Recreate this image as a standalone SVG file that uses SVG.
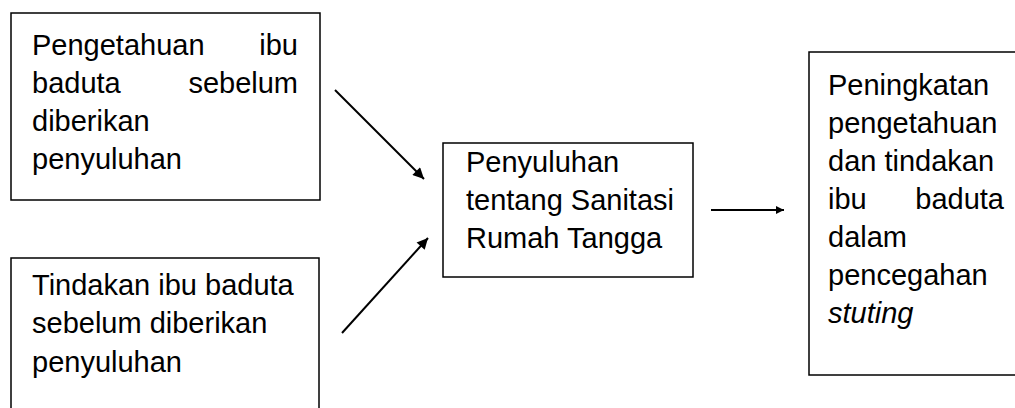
<svg xmlns="http://www.w3.org/2000/svg" width="1015" height="408" viewBox="0 0 1015 408">
<style>
.box{fill:#fff;stroke:#000;stroke-width:1.5}
.t{font-family:"Liberation Sans",Arial,sans-serif;font-size:29px;fill:#000}
.e{text-anchor:end}
.c{stroke:#000;stroke-width:2;fill:none}
</style>
<defs>
<marker id="ah" viewBox="0 0 10 10" refX="10" refY="5" markerWidth="6.5" markerHeight="5.5" orient="auto" markerUnits="strokeWidth">
<path d="M0,0 L10,5 L0,10 z" fill="#000"/>
</marker>
<marker id="ahs" viewBox="0 0 10 10" refX="10" refY="5" markerWidth="4" markerHeight="4.5" orient="auto" markerUnits="strokeWidth">
<path d="M0,0 L10,5 L0,10 z" fill="#000"/>
</marker>
</defs>
<rect width="1015" height="408" fill="#fff"/>
<g id="node-pengetahuan">
<rect class="box" x="11" y="13" width="309" height="187"/>
<text class="t" x="32" y="55">Pengetahuan</text><text class="t e" x="298" y="55">ibu</text>
<text class="t" x="32" y="93">baduta</text><text class="t e" x="298" y="93">sebelum</text>
<text class="t" x="32" y="131">diberikan</text>
<text class="t" x="32" y="169">penyuluhan</text>
</g>
<g id="node-tindakan">
<rect class="box" x="11" y="258" width="308" height="160"/>
<text class="t" x="32" y="295">Tindakan ibu baduta</text>
<text class="t" x="32" y="333">sebelum diberikan</text>
<text class="t" x="32" y="372">penyuluhan</text>
</g>
<g id="node-penyuluhan">
<rect class="box" x="443" y="143" width="250" height="134"/>
<text class="t" x="466" y="172">Penyuluhan</text>
<text class="t" x="466" y="210">tentang Sanitasi</text>
<text class="t" x="466" y="248">Rumah Tangga</text>
</g>
<g id="node-peningkatan">
<rect class="box" x="809" y="52" width="215" height="323"/>
<text class="t" x="828" y="95">Peningkatan</text>
<text class="t" x="828" y="133">pengetahuan</text>
<text class="t" x="828" y="171">dan tindakan</text>
<text class="t" x="828" y="209">ibu</text><text class="t e" x="1004" y="209">baduta</text>
<text class="t" x="828" y="247">dalam</text>
<text class="t" x="828" y="285">pencegahan</text>
<text class="t" x="828" y="323" font-style="italic">stuting</text>
</g>
<g id="connectors">
<line class="c" x1="335" y1="90" x2="424" y2="179" marker-end="url(#ah)"/>
<line class="c" x1="342" y1="333" x2="428" y2="238" marker-end="url(#ah)"/>
<line class="c" x1="711" y1="210" x2="784" y2="210" marker-end="url(#ahs)"/>
</g>
</svg>
